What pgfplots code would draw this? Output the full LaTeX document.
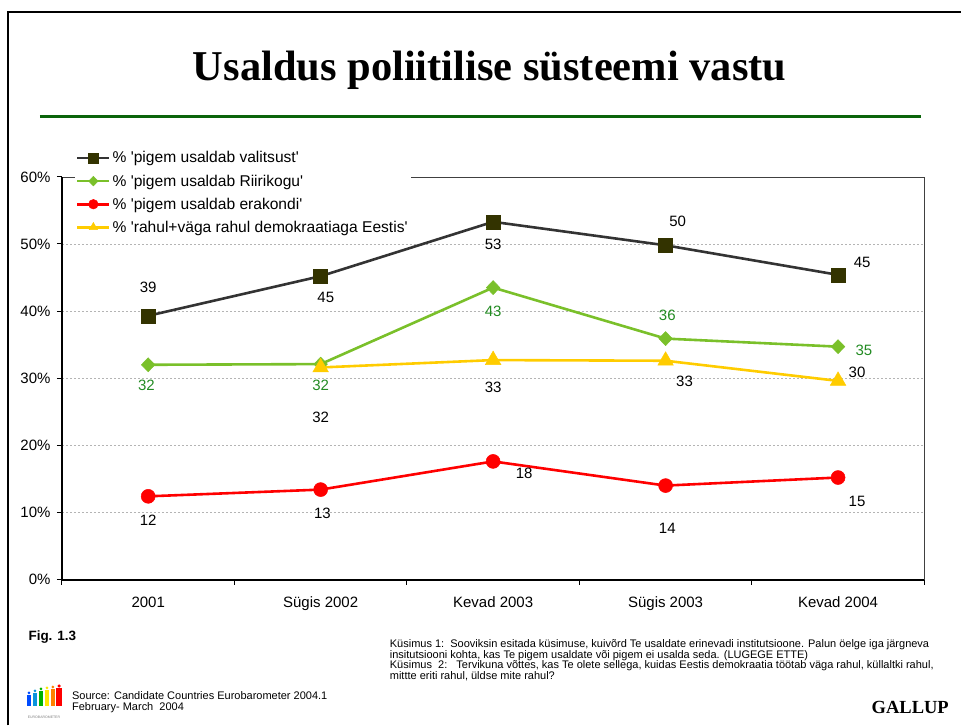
\documentclass[border=0pt]{standalone}
\usepackage{pgfplots}
\pgfplotsset{compat=1.18}
\usepackage{fontspec}
\setmainfont{Liberation Sans}
\newfontfamily\titlefont{Liberation Serif}

\definecolor{govline}{RGB}{51,51,51}
\definecolor{govmark}{RGB}{51,51,0}
\definecolor{parlline}{RGB}{122,192,42}
\definecolor{parltext}{RGB}{34,139,34}
\definecolor{partyred}{RGB}{255,0,0}
\definecolor{demoyel}{RGB}{255,204,0}
\definecolor{rulegreen}{RGB}{10,100,10}
\definecolor{gridgray}{RGB}{180,180,180}

% values, in per cent
\pgfplotstableread{
x    val
0.5  39.3
1.5  45.2
2.5  53.3
3.5  49.8
4.5  45.4
}\govt
\pgfplotstableread{
x    val
0.5  32.0
1.5  32.1
2.5  43.5
3.5  35.9
4.5  34.7
}\riigikogu
\pgfplotstableread{
x    val
0.5  12.4
1.5  13.4
2.5  17.6
3.5  14.0
4.5  15.2
}\erakond
\pgfplotstableread{
x    val
1.5  31.6
2.5  32.7
3.5  32.6
4.5  29.6
}\demokr

\newcommand{\q}{\textquotesingle}

\begin{document}
\begin{tikzpicture}[x=1pt,y=1pt]
\path (0,0) rectangle (962,726);
% frame and header
\draw[line width=1.5pt] (8,0) -- (8,714) -- (962,714);
\node[font=\titlefont\bfseries\fontsize{42.5}{48}\selectfont] at (490,656) {Usaldus poliitilise süsteemi vastu};
\draw[rulegreen, line width=3pt] (40,609) -- (922,609);

\begin{axis}[
  at={(62pt,146pt)}, anchor=south west,
  width=863pt, height=403pt, scale only axis,
  xmin=0, xmax=5, ymin=0, ymax=60,
  axis line style={draw=black!75, line width=0.6pt},
  xtick={0.5,1.5,2.5,3.5,4.5},
  xticklabels={2001, Sügis 2002, Kevad 2003, Sügis 2003, Kevad 2004},
  minor xtick={0,1,2,3,4,5},
  ytick={0,10,...,60},
  yticklabels={0\%,10\%,20\%,30\%,40\%,50\%,60\%},
  tick pos=left, tick align=outside,
  major tick length=5pt, minor tick length=5pt,
  xtick style={draw=none},
  minor x tick style={draw=black, line width=1pt},
  ytick style={draw=black, line width=1pt},
  ymajorgrids, grid style={gridgray, dash pattern=on 2pt off 2pt, line width=0.7pt},
  minor grid style={draw=none},
  tick label style={font=\fontsize{15}{18}\selectfont},
  xticklabel style={yshift=-9pt},
  yticklabel style={xshift=-3pt},
  legend style={at={(0.015,1.0705)}, anchor=north west, draw=none, fill=white,
    font=\fontsize{15.6}{18}\selectfont, row sep=6.3pt, inner sep=1pt},
  legend cell align=left,
  legend image code/.code={\draw[mark repeat=2,mark phase=2,mark size=4.8pt]
    plot coordinates {(0pt,0pt) (16pt,0pt) (32pt,0pt)};},
  every axis plot/.append style={line width=2.6pt},
  clip=false,
]
\addplot[govline, mark=square*, mark size=7pt, mark options={fill=govmark, draw=govmark, line width=0.5pt}] table[x=x,y=val] {\govt};
\addlegendentry{\% \q pigem usaldab valitsust\q}
\addplot[parlline, mark=diamond*, mark size=7pt, mark options={fill=parlline, draw=parlline, line width=0.5pt, xscale=1.3}] table[x=x,y=val] {\riigikogu};
\addlegendentry{\% \q pigem usaldab Riirikogu\q}
\addplot[partyred, mark=*, mark size=7pt, mark options={fill=partyred, draw=partyred, line width=0.5pt}] table[x=x,y=val] {\erakond};
\addlegendentry{\% \q pigem usaldab erakondi\q}
\addplot[demoyel, mark=triangle*, mark size=9pt, mark options={fill=demoyel, draw=demoyel, line width=0.5pt}] table[x=x,y=val] {\demokr};
\addlegendentry{\% \q rahul+väga rahul demokraatiaga Eestis\q}

% value labels
\begin{scope}[every node/.style={font=\fontsize{15}{18}\selectfont}]
\node at (axis cs:0.50,43.5) {39};
\node at (axis cs:1.53,42.0) {45};
\node at (axis cs:2.50,49.9) {53};
\node at (axis cs:3.57,53.3) {50};
\node at (axis cs:4.64,47.2) {45};
\node[text=parltext] at (axis cs:0.49,29.0) {32};
\node[text=parltext] at (axis cs:1.50,29.0) {32};
\node[text=parltext] at (axis cs:2.50,39.9) {43};
\node[text=parltext] at (axis cs:3.51,39.3) {36};
\node[text=parltext] at (axis cs:4.65,34.1) {35};
\node at (axis cs:0.50,8.8) {12};
\node at (axis cs:1.51,9.8) {13};
\node at (axis cs:2.68,15.8) {18};
\node at (axis cs:3.51,7.6) {14};
\node at (axis cs:4.61,11.6) {15};
\node at (axis cs:1.50,24.2) {32};
\node at (axis cs:2.50,28.7) {33};
\node at (axis cs:3.61,29.6) {33};
\node at (axis cs:4.61,30.8) {30};
\end{scope}
\end{axis}
% thick left and bottom axis lines
\draw[black, line width=2pt] (62,549) -- (62,146) -- (925,146);

% footer
\node[anchor=west, font=\bfseries\fontsize{13.5}{16}\selectfont] at (25,88) {Fig. 1.3};
\begin{scope}[font=\fontsize{11}{12}\selectfont]
\node[anchor=west, inner sep=0pt] at (72,30) {Source: Candidate Countries Eurobarometer 2004.1};
\node[anchor=west, inner sep=0pt] at (72,18) {February- March\ \ 2004};
\node[anchor=west, inner sep=0pt] at (390,80.5) {Küsimus 1:\ \ Sooviksin esitada küsimuse, kuivõrd Te usaldate erinevadi institutsioone. Palun öelge iga järgneva};
\node[anchor=west, inner sep=0pt] at (390,70.2) {insitutsiooni kohta, kas Te pigem usaldate või pigem ei usalda seda. (LUGEGE ETTE)};
\node[anchor=west, inner sep=0pt] at (390,59.9) {Küsimus\ \ 2:\ \ \ Tervikuna võttes, kas Te olete sellega, kuidas Eestis demokraatia töötab väga rahul, küllaltki rahul,};
\node[anchor=west, inner sep=0pt] at (390,49.6) {mittte eriti rahul, üldse mite rahul?};
\end{scope}
\node[anchor=east, font=\titlefont\bfseries\fontsize{18.5}{22}\selectfont] at (953,18) {GALLUP};
% small Eurobarometer logo
\fill[blue!70!cyan] (27,19) rectangle (31,30); \fill[blue!70!cyan] (29,32.5) circle (1.5);
\fill[cyan!80!blue] (33,19) rectangle (37,32); \fill[cyan!80!blue] (35,34.5) circle (1.5);
\fill[green!70!black] (39,19) rectangle (43,34); \fill[green!70!black] (41,36.5) circle (1.5);
\fill[yellow!90!orange] (45,19) rectangle (49,35); \fill[yellow!90!orange] (47,37.5) circle (1.5);
\fill[orange] (51,19) rectangle (55,36); \fill[orange] (53,38.5) circle (1.5);
\fill[red] (56.5,19) rectangle (62,37); \fill[red] (59.2,39.5) circle (1.7);
\node[font=\fontsize{3.5}{4}\selectfont, text=gray, inner sep=0pt] at (44,8) {EUROBAROMETER};
\end{tikzpicture}
\end{document}
